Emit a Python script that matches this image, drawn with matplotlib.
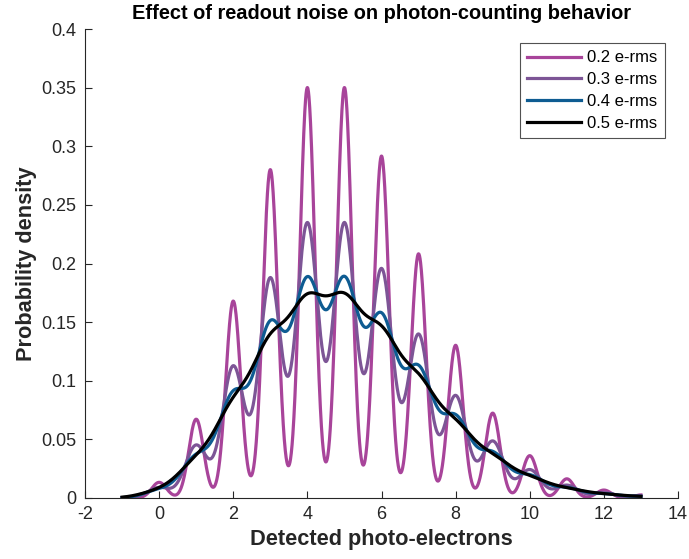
import numpy as np
import matplotlib
matplotlib.use("Agg")
import matplotlib.pyplot as plt

plt.rcParams['font.family'] = ['Liberation Sans', 'DejaVu Sans']
plt.rcParams['axes.unicode_minus'] = False

# probability of k photo-electrons (k = 0..13)
counts = [0, 1, 2, 3, 4, 5, 6, 7, 8, 9, 10, 11, 12, 13]
count_prob = [0.0067, 0.0337, 0.0842, 0.1404, 0.1755, 0.1755, 0.1462,
              0.1044, 0.0653, 0.0363, 0.0181, 0.0082, 0.0034, 0.0013]

# read noise levels (e- rms) and their line colours
noise_rms = [0.2, 0.3, 0.4, 0.5]
noise_labels = ['0.2 e-rms', '0.3 e-rms', '0.4 e-rms', '0.5 e-rms']
noise_colors = ['#A8449A', '#7D5596', '#0E5C92', '#000000']

x = np.linspace(-1, 13, 2000)

fig = plt.figure(figsize=(6.89, 5.59), dpi=100)
ax = fig.add_axes([85 / 689, 1 - 498 / 559, (678 - 85) / 689, (498 - 29) / 559])

for s, lab, col in zip(noise_rms, noise_labels, noise_colors):
    pdf = np.zeros_like(x)
    for k, p in zip(counts, count_prob):
        pdf += p * np.exp(-0.5 * ((x - k) / s) ** 2) / (s * np.sqrt(2 * np.pi))
    ax.plot(x, pdf, color=col, lw=2.3, label=lab)

ax.set_xlim(-2, 14)
ax.set_ylim(0, 0.4)
ax.set_xticks(np.arange(-2, 15, 2))
ax.set_yticks(np.arange(0, 0.41, 0.05))
ax.set_yticklabels(['0', '0.05', '0.1', '0.15', '0.2', '0.25', '0.3', '0.35', '0.4'])

for side in ['top', 'right']:
    ax.spines[side].set_visible(False)
for side in ['left', 'bottom']:
    ax.spines[side].set_color('#262626')
    ax.spines[side].set_linewidth(0.8)
ax.tick_params(direction='in', length=5, width=0.8, colors='#262626',
               labelsize=13, labelcolor='#262626', pad=6)

ax.set_xlabel('Detected photo-electrons', fontsize=15.7, fontweight='bold',
              color='#262626', labelpad=4)
ax.set_ylabel('Probability density', fontsize=15.7, fontweight='bold',
              color='#262626', labelpad=3)
ax.set_title('Effect of readout noise on photon-counting behavior',
             fontsize=14.4, fontweight='bold', pad=7)

leg = ax.legend(loc='upper right', bbox_to_anchor=(665 / 689, 1 - 43 / 559),
                bbox_transform=fig.transFigure, fontsize=12,
                frameon=True, fancybox=False, handlelength=3.2,
                handletextpad=0.4, borderaxespad=0, borderpad=0.45,
                labelspacing=0.4)
leg.get_frame().set_edgecolor('#262626')
leg.get_frame().set_linewidth(0.8)

fig.savefig('out.png', dpi=100)
